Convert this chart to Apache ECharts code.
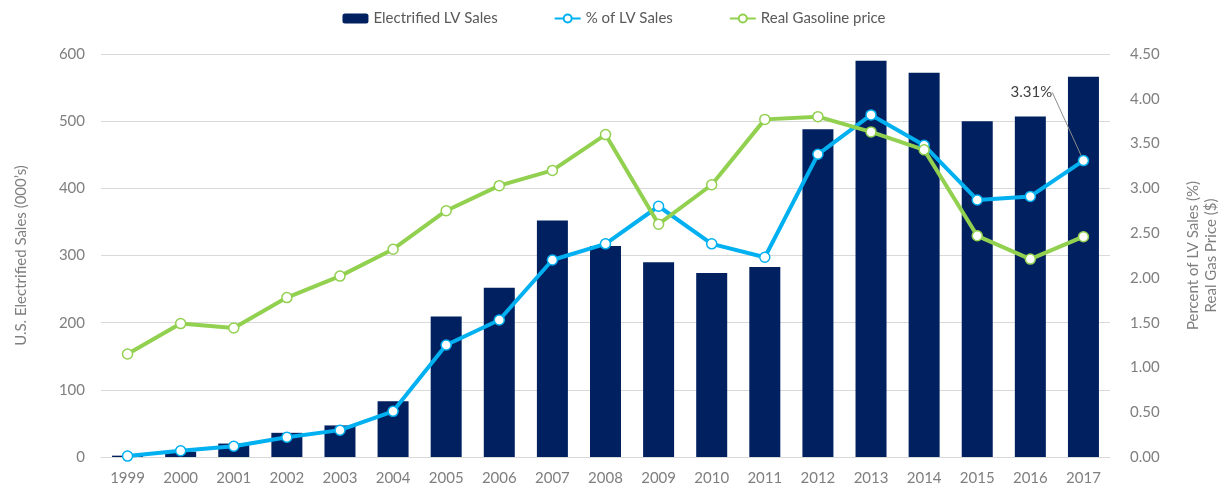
<!DOCTYPE html>
<html><head><meta charset="utf-8">
<script src="https://cdn.jsdelivr.net/npm/echarts@6/dist/echarts.min.js"></script>
<style>html,body{margin:0;padding:0;background:#fff}#c{width:1228px;height:492px}</style>
</head><body><div id="c"></div>
<script>
const years = ['1999','2000','2001','2002','2003','2004','2005','2006','2007','2008','2009','2010','2011','2012','2013','2014','2015','2016','2017'];
const electrifiedSales = [2,8,20,36,47,83,209,252,352,314,290,274,283,488,590,572,500,507,566];
const pctLVSales = [0.01,0.07,0.12,0.22,0.30,0.51,1.25,1.53,2.20,2.38,2.80,2.38,2.23,3.38,3.82,3.48,2.87,2.91,3.31];
const gasPrice = [1.15,1.49,1.44,1.78,2.02,2.32,2.75,3.03,3.20,3.60,2.60,3.04,3.77,3.80,3.63,3.43,2.47,2.21,2.46];

const font = 'Lato, "Open Sans", sans-serif';
const grey = '#7f7f7f';
const fs = 15;
const chart = echarts.init(document.getElementById('c'));
const pctData = pctLVSales.map((v,i)=> i===pctLVSales.length-1 ? {
  value:v,
  label:{show:true, formatter: v.toFixed(2)+'%', position:'top', color:'#404040', fontSize:fs, fontFamily:font},
  labelLine:{show:true, lineStyle:{color:'#8c8c8c', width:1}}
} : v);
chart.setOption({
  animation:false,
  textStyle:{fontFamily:font},
  legend:{
    top:6, left:'center', itemGap:56, itemWidth:26, itemHeight:10,
    textStyle:{color:'#595959', fontSize:fs, fontFamily:font},
    data:['Electrified LV Sales','% of LV Sales','Real Gasoline price']
  },
  grid:{left:101, right:113, top:54, bottom:35},
  xAxis:{
    type:'category', data:years,
    axisLine:{lineStyle:{color:'#d9d9d9'}}, axisTick:{show:false},
    axisLabel:{color:grey, fontSize:fs, margin:14, fontFamily:font}
  },
  yAxis:[{
    type:'value', min:0, max:600, interval:100,
    name:'U.S. Electrified Sales (000\u2019s)', nameLocation:'middle', nameRotate:90, nameGap:72,
    nameTextStyle:{color:grey, fontSize:fs, fontFamily:font},
    axisLabel:{color:grey, fontSize:fs, margin:16, fontFamily:font},
    splitLine:{lineStyle:{color:'#d9d9d9'}}, axisLine:{show:false}, axisTick:{show:false}
  },{
    type:'value', min:0, max:4.5, interval:0.5, position:'right',
    name:'Percent of LV Sales (%)\nReal Gas Price ($)', nameLocation:'middle', nameRotate:90, nameGap:74,
    nameTextStyle:{color:grey, fontSize:fs, lineHeight:18, fontFamily:font},
    axisLabel:{color:grey, fontSize:fs, margin:20, fontFamily:font, formatter:v=>v.toFixed(2)},
    splitLine:{show:false}, axisLine:{show:false}, axisTick:{show:false}
  }],
  series:[{
    name:'Electrified LV Sales', type:'bar', data:electrifiedSales, barWidth:31,
    itemStyle:{color:'#002060'}
  },{
    name:'% of LV Sales', type:'line', yAxisIndex:1, data:pctData,
    symbol:'circle', symbolSize:10,
    lineStyle:{color:'#00b0f0', width:4},
    itemStyle:{color:'#ffffff', borderColor:'#00b0f0', borderWidth:1.5},
    labelLayout:function(p){ return p.dataIndex===pctLVSales.length-1 ? {dx:-52, dy:-50} : {}; }
  },{
    name:'Real Gasoline price', type:'line', yAxisIndex:1, data:gasPrice,
    symbol:'circle', symbolSize:10,
    lineStyle:{color:'#92d050', width:4},
    itemStyle:{color:'#ffffff', borderColor:'#92d050', borderWidth:1.5}
  }]
});
</script></body></html>
